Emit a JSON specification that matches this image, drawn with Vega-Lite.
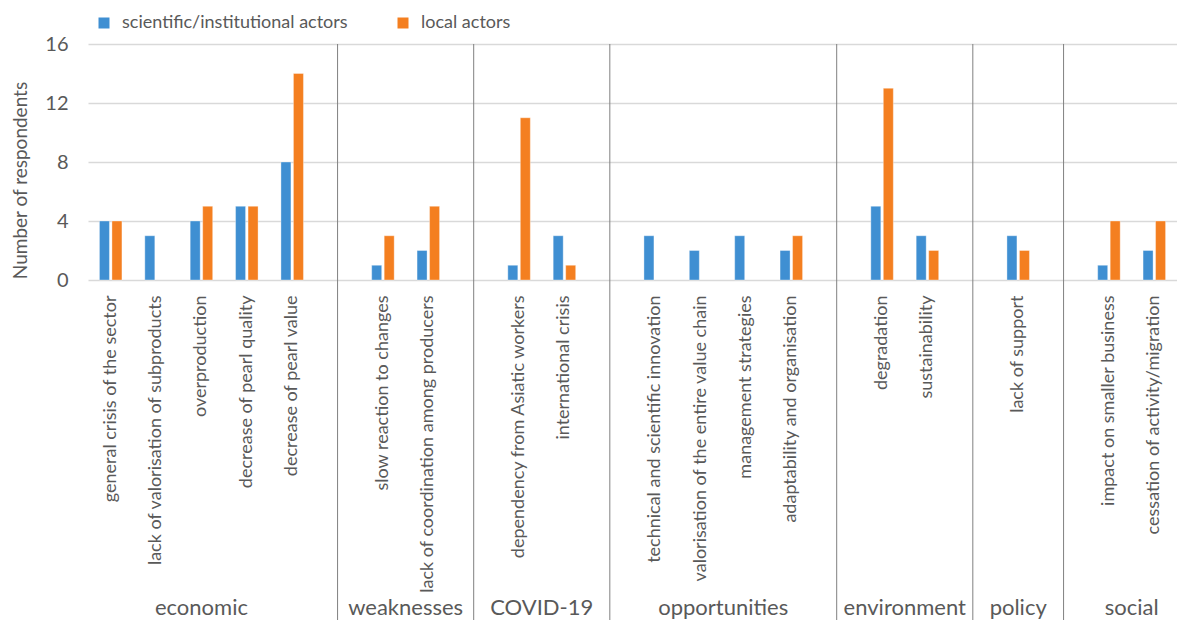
{
  "$schema": "https://vega.github.io/schema/vega-lite/v6.json",
  "autosize": {"type": "none"},
  "padding": {"left": 88, "top": 44, "right": 0, "bottom": 340},
  "width": 1089,
  "height": 236,
  "background": "white",
  "config": {
    "view": {"stroke": null},
    "font": "Lato",
    "axis": {"labelColor": "#595959", "titleColor": "#595959", "labelFont": "Lato", "titleFont": "Lato"},
    "legend": {"labelColor": "#595959", "labelFont": "Lato"}
  },
  "data": {
    "values": [
      {"section": "economic", "category": "general crisis of the sector", "scientific/institutional actors": 4, "local actors": 4},
      {"section": "economic", "category": "lack of valorisation of subproducts", "scientific/institutional actors": 3, "local actors": 0},
      {"section": "economic", "category": "overproduction", "scientific/institutional actors": 4, "local actors": 5},
      {"section": "economic", "category": "decrease of pearl quality", "scientific/institutional actors": 5, "local actors": 5},
      {"section": "economic", "category": "decrease of pearl value", "scientific/institutional actors": 8, "local actors": 14},
      {"section": "weaknesses", "category": "slow reaction to changes", "scientific/institutional actors": 1, "local actors": 3},
      {"section": "weaknesses", "category": "lack of coordination among producers", "scientific/institutional actors": 2, "local actors": 5},
      {"section": "COVID-19", "category": "dependency from Asiatic workers", "scientific/institutional actors": 1, "local actors": 11},
      {"section": "COVID-19", "category": "international crisis", "scientific/institutional actors": 3, "local actors": 1},
      {"section": "opportunities", "category": "technical and scientific innovation", "scientific/institutional actors": 3, "local actors": 0},
      {"section": "opportunities", "category": "valorisation of the entire value chain", "scientific/institutional actors": 2, "local actors": 0},
      {"section": "opportunities", "category": "management strategies", "scientific/institutional actors": 3, "local actors": 0},
      {"section": "opportunities", "category": "adaptability and organisation", "scientific/institutional actors": 2, "local actors": 3},
      {"section": "environment", "category": "degradation", "scientific/institutional actors": 5, "local actors": 13},
      {"section": "environment", "category": "sustainability", "scientific/institutional actors": 3, "local actors": 2},
      {"section": "policy", "category": "lack of support", "scientific/institutional actors": 3, "local actors": 2},
      {"section": "social", "category": "impact on smaller business", "scientific/institutional actors": 1, "local actors": 4},
      {"section": "social", "category": "cessation of activity/migration", "scientific/institutional actors": 2, "local actors": 4}
    ]
  },
  "layer": [
    {
      "transform": [
        {"fold": ["scientific/institutional actors", "local actors"], "as": ["series", "value"]},
        {"filter": "datum.value > 0"}
      ],
      "mark": {"type": "bar", "stroke": "#ffffff", "strokeOpacity": 0.35, "strokeWidth": 1},
      "encoding": {
        "x": {
          "field": "category", "type": "nominal", "sort": null,
          "scale": {
            "domain": ["general crisis of the sector", "lack of valorisation of subproducts", "overproduction", "decrease of pearl quality", "decrease of pearl value", "gap1",
                       "slow reaction to changes", "lack of coordination among producers", "gap2",
                       "dependency from Asiatic workers", "international crisis", "gap3",
                       "technical and scientific innovation", "valorisation of the entire value chain", "management strategies", "adaptability and organisation", "gap4",
                       "degradation", "sustainability", "gap5",
                       "lack of support", "gap6",
                       "impact on smaller business", "cessation of activity/migration"],
            "paddingInner": 0, "paddingOuter": 0
          },
          "axis": {
            "title": null, "labelAngle": -90, "labelPadding": 15, "labelFontSize": 18, "labelLimit": 400,
            "ticks": false, "domain": false, "grid": false,
            "labelExpr": "indexof(datum.value, 'gap') == 0 ? '' : datum.value"
          }
        },
        "xOffset": {
          "field": "series", "type": "nominal",
          "scale": {"domain": ["scientific/institutional actors", "local actors"], "paddingInner": 0.2, "paddingOuter": 0.915}
        },
        "y": {
          "field": "value", "type": "quantitative",
          "scale": {"domain": [0, 16], "nice": false},
          "axis": {
            "title": "Number of respondents", "titleFontSize": 19, "titleFontWeight": "normal", "titlePadding": 14, "titleY": 136,
            "values": [0, 4, 8, 12, 16], "labelFontSize": 20, "labelPadding": 20,
            "ticks": false, "domain": false, "gridColor": "#d9d9d9", "gridWidth": 1.5
          }
        },
        "color": {
          "field": "series", "type": "nominal",
          "scale": {"domain": ["scientific/institutional actors", "local actors"], "range": ["#3f8fd2", "#f47f20"]},
          "legend": {
            "title": null, "orient": "none", "direction": "horizontal", "legendX": 7, "legendY": -30,
            "symbolType": "square", "symbolSize": 121, "symbolStrokeWidth": 0, "labelFontSize": 18,
            "labelOffset": 9, "columnPadding": 46, "labelLimit": 400
          }
        }
      }
    },
    {
      "transform": [
        {"window": [{"op": "row_number", "as": "rn"}], "groupby": ["section"]},
        {"filter": "datum.rn == 1 && datum.section != 'economic'"}
      ],
      "mark": {"type": "rule", "color": "#808080", "strokeWidth": 1},
      "encoding": {
        "x": {"field": "category", "type": "nominal", "bandPosition": -0.5},
        "y": {"datum": 16, "type": "quantitative"},
        "y2": {"datum": -23.2}
      }
    },
    {
      "transform": [
        {"window": [{"op": "row_number", "as": "rn"}, {"op": "count", "as": "n"}], "groupby": ["section"], "frame": [null, null]},
        {"filter": "datum.rn == ceil(datum.n / 2) && datum.n % 2 == 1"}
      ],
      "mark": {"type": "text", "fontSize": 22, "color": "#595959", "baseline": "alphabetic", "align": "center"},
      "encoding": {
        "x": {"field": "category", "type": "nominal", "bandPosition": 0.5},
        "y": {"datum": -22.7, "type": "quantitative"},
        "text": {"field": "section"}
      }
    },
    {
      "transform": [
        {"window": [{"op": "row_number", "as": "rn"}, {"op": "count", "as": "n"}], "groupby": ["section"], "frame": [null, null]},
        {"filter": "datum.rn == ceil(datum.n / 2) && datum.n % 2 == 0"}
      ],
      "mark": {"type": "text", "fontSize": 22, "color": "#595959", "baseline": "alphabetic", "align": "center"},
      "encoding": {
        "x": {"field": "category", "type": "nominal", "bandPosition": 1},
        "y": {"datum": -22.7, "type": "quantitative"},
        "text": {"field": "section"}
      }
    }
  ]
}
